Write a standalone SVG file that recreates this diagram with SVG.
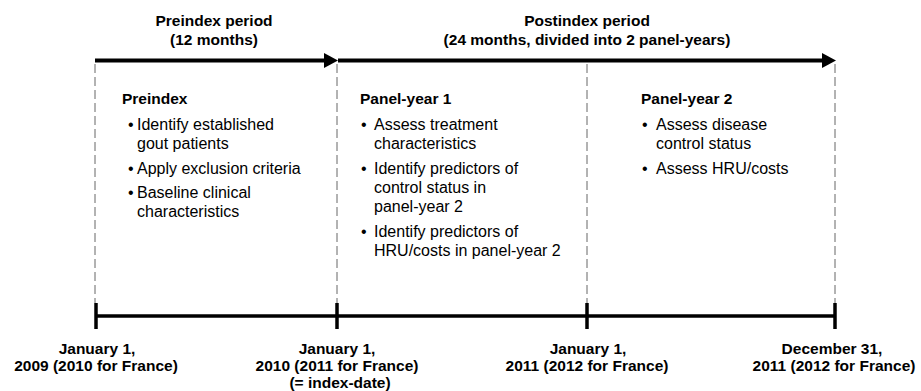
<svg xmlns="http://www.w3.org/2000/svg" width="921" height="391" viewBox="0 0 921 391">
<style>
text{font-family:"Liberation Sans",Arial,Helvetica,sans-serif;font-size:16px;fill:#000}
.b{font-weight:bold;font-size:15.5px}
.c{text-anchor:middle}
.dash{stroke:#666;stroke-width:1;stroke-dasharray:9,4;fill:none}
.thick{stroke:#000;stroke-width:4;fill:none}
.axis{stroke:#000;stroke-width:3.5;fill:none}
</style>
<rect width="921" height="391" fill="#fff"/>
<g id="connectors">
  <line class="dash" x1="95" y1="64" x2="95" y2="303"/>
  <line class="dash" x1="337" y1="64" x2="337" y2="303"/>
  <line class="dash" x1="587" y1="64" x2="587" y2="303"/>
  <line class="dash" x1="835" y1="64" x2="835" y2="303"/>
  <line class="thick" x1="95" y1="60.5" x2="326" y2="60.5"/>
  <polygon points="324,53 338,60.5 324,68" fill="#000"/>
  <line class="thick" x1="338" y1="60.5" x2="824" y2="60.5"/>
  <polygon points="822,53 836,60.5 822,68" fill="#000"/>
  <line class="axis" x1="95" y1="316" x2="835" y2="316"/>
  <line class="axis" x1="96" y1="303" x2="96" y2="329"/>
  <line class="axis" x1="337" y1="303" x2="337" y2="329"/>
  <line class="axis" x1="587" y1="303" x2="587" y2="329"/>
  <line class="axis" x1="835" y1="303" x2="835" y2="329"/>
</g>
<g id="preindex-period">
  <text class="b c" x="214" y="26">Preindex period</text>
  <text class="b c" x="214" y="45">(12 months)</text>
</g>
<g id="postindex-period">
  <text class="b c" x="587" y="26">Postindex period</text>
  <text class="b c" x="587" y="45">(24 months, divided into 2 panel-years)</text>
</g>
<g id="preindex">
  <text class="b" x="122" y="104">Preindex</text>
  <text x="128" y="130">•</text><text x="137" y="130">Identify established</text>
  <text x="137" y="149">gout patients</text>
  <text x="128" y="174">•</text><text x="137" y="174">Apply exclusion criteria</text>
  <text x="128" y="198">•</text><text x="137" y="198">Baseline clinical</text>
  <text x="137" y="217">characteristics</text>
</g>
<g id="panel-year-1">
  <text class="b" x="360" y="104">Panel-year 1</text>
  <text x="361" y="130">•</text><text x="374" y="130">Assess treatment</text>
  <text x="374" y="149">characteristics</text>
  <text x="361" y="174">•</text><text x="374" y="174">Identify predictors of</text>
  <text x="374" y="193">control status in</text>
  <text x="374" y="212">panel-year 2</text>
  <text x="361" y="237">•</text><text x="374" y="237">Identify predictors of</text>
  <text x="374" y="256">HRU/costs in panel-year 2</text>
</g>
<g id="panel-year-2">
  <text class="b" x="641" y="104">Panel-year 2</text>
  <text x="642" y="130">•</text><text x="656" y="130">Assess disease</text>
  <text x="656" y="149">control status</text>
  <text x="642" y="174">•</text><text x="656" y="174">Assess HRU/costs</text>
</g>
<g id="date-1">
  <text class="b c" x="97" y="354">January 1,</text>
  <text class="b c" x="96" y="371">2009 (2010 for France)</text>
</g>
<g id="date-2">
  <text class="b c" x="337" y="354">January 1,</text>
  <text class="b c" x="337" y="371">2010 (2011 for France)</text>
  <text class="b c" x="340" y="388">(= index-date)</text>
</g>
<g id="date-3">
  <text class="b c" x="588" y="354">January 1,</text>
  <text class="b c" x="587" y="371">2011 (2012 for France)</text>
</g>
<g id="date-4">
  <text class="b c" x="832" y="354">December 31,</text>
  <text class="b c" x="834" y="371">2011 (2012 for France)</text>
</g>
</svg>
